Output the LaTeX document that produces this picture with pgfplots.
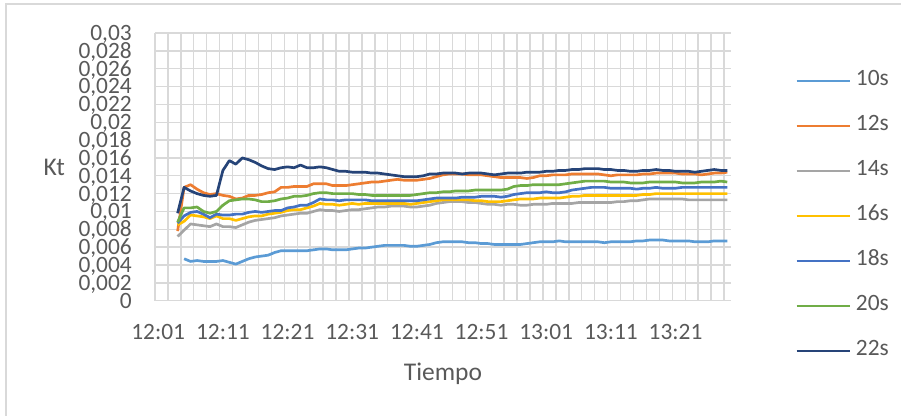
\documentclass[border=0pt]{standalone}
\usepackage{fontspec}
\setmainfont{Carlito}
\usepackage{pgfplots}
\usepackage{pgfplotstable}
\pgfplotsset{compat=1.18}
\definecolor{gridgray}{HTML}{D9D9D9}
\definecolor{txtgray}{HTML}{595959}
\definecolor{cA}{HTML}{5B9BD5}
\definecolor{cB}{HTML}{ED7D31}
\definecolor{cC}{HTML}{A5A5A5}
\definecolor{cD}{HTML}{FFC000}
\definecolor{cE}{HTML}{4472C4}
\definecolor{cF}{HTML}{70AD47}
\definecolor{cG}{HTML}{264478}
\pgfplotstableread{
t s10 s12 s14 s16 s18 s20 s22
3 nan 0.0078 0.0072 0.0085 0.0087 0.0088 0.0098
4 0.0047 0.0127 0.0079 0.0089 0.0095 0.0104 0.0127
5 0.0044 0.0130 0.0086 0.0096 0.0099 0.0104 0.0123
6 0.0045 0.0125 0.0085 0.0095 0.0100 0.0105 0.0120
7 0.0044 0.0121 0.0084 0.0094 0.0097 0.0100 0.0118
8 0.0044 0.0119 0.0083 0.0092 0.0093 0.0098 0.0117
9 0.0044 0.0120 0.0086 0.0095 0.0097 0.0100 0.0118
10 0.0045 0.0118 0.0083 0.0092 0.0096 0.0107 0.0146
11 0.0043 0.0117 0.0083 0.0092 0.0096 0.0112 0.0157
12 0.0041 0.0114 0.0082 0.0090 0.0097 0.0113 0.0153
13 0.0044 0.0115 0.0085 0.0092 0.0097 0.0114 0.0160
14 0.0047 0.0118 0.0088 0.0094 0.0099 0.0114 0.0158
15 0.0049 0.0118 0.0090 0.0095 0.0100 0.0113 0.0155
16 0.0050 0.0119 0.0091 0.0095 0.0099 0.0111 0.0151
17 0.0051 0.0121 0.0092 0.0097 0.0100 0.0111 0.0148
18 0.0054 0.0122 0.0093 0.0098 0.0101 0.0112 0.0147
19 0.0056 0.0127 0.0095 0.0099 0.0101 0.0114 0.0149
20 0.0056 0.0127 0.0096 0.0101 0.0104 0.0115 0.0150
21 0.0056 0.0128 0.0097 0.0102 0.0105 0.0117 0.0149
22 0.0056 0.0128 0.0098 0.0102 0.0107 0.0117 0.0152
23 0.0056 0.0128 0.0098 0.0104 0.0107 0.0118 0.0149
24 0.0057 0.0131 0.0100 0.0106 0.0110 0.0120 0.0149
25 0.0058 0.0131 0.0102 0.0109 0.0114 0.0121 0.0150
26 0.0058 0.0131 0.0101 0.0108 0.0113 0.0121 0.0149
27 0.0057 0.0129 0.0101 0.0108 0.0113 0.0120 0.0147
28 0.0057 0.0129 0.0100 0.0107 0.0112 0.0120 0.0145
29 0.0057 0.0129 0.0101 0.0108 0.0113 0.0120 0.0145
30 0.0058 0.0130 0.0102 0.0109 0.0113 0.0120 0.0144
31 0.0059 0.0131 0.0102 0.0108 0.0113 0.0119 0.0144
32 0.0059 0.0132 0.0103 0.0109 0.0113 0.0119 0.0144
33 0.0060 0.0133 0.0104 0.0109 0.0112 0.0118 0.0143
34 0.0061 0.0133 0.0105 0.0109 0.0112 0.0118 0.0143
35 0.0062 0.0134 0.0105 0.0109 0.0112 0.0118 0.0142
36 0.0062 0.0135 0.0106 0.0109 0.0112 0.0118 0.0141
37 0.0062 0.0136 0.0106 0.0109 0.0112 0.0118 0.0140
38 0.0062 0.0135 0.0106 0.0109 0.0112 0.0118 0.0139
39 0.0061 0.0135 0.0105 0.0108 0.0112 0.0118 0.0139
40 0.0061 0.0135 0.0105 0.0109 0.0112 0.0119 0.0139
41 0.0062 0.0136 0.0106 0.0110 0.0113 0.0120 0.0140
42 0.0063 0.0137 0.0107 0.0111 0.0114 0.0121 0.0142
43 0.0065 0.0139 0.0109 0.0112 0.0115 0.0121 0.0142
44 0.0066 0.0141 0.0110 0.0113 0.0115 0.0122 0.0143
45 0.0066 0.0142 0.0111 0.0113 0.0115 0.0122 0.0143
46 0.0066 0.0142 0.0111 0.0113 0.0115 0.0123 0.0143
47 0.0066 0.0142 0.0111 0.0113 0.0116 0.0123 0.0142
48 0.0065 0.0141 0.0110 0.0113 0.0116 0.0123 0.0143
49 0.0065 0.0141 0.0110 0.0112 0.0116 0.0124 0.0143
50 0.0064 0.0141 0.0109 0.0112 0.0117 0.0124 0.0143
51 0.0064 0.0140 0.0108 0.0111 0.0117 0.0124 0.0142
52 0.0063 0.0139 0.0108 0.0111 0.0117 0.0124 0.0141
53 0.0063 0.0138 0.0107 0.0111 0.0116 0.0124 0.0142
54 0.0063 0.0138 0.0108 0.0112 0.0117 0.0125 0.0143
55 0.0063 0.0138 0.0108 0.0113 0.0119 0.0128 0.0143
56 0.0063 0.0138 0.0107 0.0114 0.0120 0.0129 0.0143
57 0.0064 0.0137 0.0107 0.0114 0.0121 0.0129 0.0144
58 0.0065 0.0138 0.0108 0.0114 0.0121 0.0130 0.0144
59 0.0066 0.0140 0.0108 0.0115 0.0121 0.0130 0.0144
60 0.0066 0.0140 0.0108 0.0115 0.0122 0.0130 0.0145
61 0.0066 0.0141 0.0109 0.0115 0.0121 0.0130 0.0145
62 0.0067 0.0141 0.0109 0.0115 0.0121 0.0130 0.0146
63 0.0066 0.0141 0.0109 0.0116 0.0122 0.0131 0.0146
64 0.0066 0.0142 0.0109 0.0117 0.0124 0.0132 0.0147
65 0.0066 0.0142 0.0110 0.0117 0.0125 0.0133 0.0147
66 0.0066 0.0142 0.0110 0.0118 0.0126 0.0134 0.0148
67 0.0066 0.0142 0.0110 0.0118 0.0127 0.0134 0.0148
68 0.0066 0.0142 0.0110 0.0118 0.0127 0.0134 0.0148
69 0.0065 0.0141 0.0110 0.0118 0.0127 0.0134 0.0147
70 0.0066 0.0140 0.0110 0.0118 0.0126 0.0133 0.0147
71 0.0066 0.0141 0.0111 0.0118 0.0126 0.0133 0.0146
72 0.0066 0.0141 0.0111 0.0118 0.0126 0.0133 0.0146
73 0.0066 0.0141 0.0112 0.0118 0.0126 0.0132 0.0145
74 0.0067 0.0141 0.0112 0.0118 0.0125 0.0132 0.0145
75 0.0067 0.0142 0.0113 0.0119 0.0126 0.0132 0.0146
76 0.0068 0.0142 0.0114 0.0119 0.0126 0.0133 0.0146
77 0.0068 0.0143 0.0114 0.0120 0.0127 0.0133 0.0147
78 0.0068 0.0143 0.0114 0.0120 0.0126 0.0133 0.0146
79 0.0067 0.0143 0.0114 0.0120 0.0126 0.0133 0.0146
80 0.0067 0.0143 0.0114 0.0120 0.0126 0.0133 0.0145
81 0.0067 0.0142 0.0114 0.0120 0.0127 0.0132 0.0145
82 0.0067 0.0142 0.0113 0.0120 0.0127 0.0132 0.0145
83 0.0066 0.0142 0.0113 0.0120 0.0127 0.0132 0.0144
84 0.0066 0.0141 0.0113 0.0120 0.0127 0.0133 0.0145
85 0.0066 0.0142 0.0113 0.0120 0.0127 0.0133 0.0146
86 0.0067 0.0143 0.0113 0.0120 0.0127 0.0133 0.0147
87 0.0067 0.0143 0.0113 0.0120 0.0127 0.0134 0.0146
88 0.0067 0.0144 0.0113 0.0120 0.0127 0.0133 0.0146
}\datatable
\begin{document}
\begin{tikzpicture}
\useasboundingbox (0,0) rectangle (901bp,416bp);
\draw[gridgray, line width=1.3bp] (6bp,-2bp) -- (6bp,412bp) -- (903bp,412bp);
\begin{axis}[
  scale only axis,
  width=575.5bp, height=267.7bp,
  at={(155bp,115.3bp)}, anchor=south west,
  xmin=-0.5, xmax=88.5, ymin=0, ymax=0.03,
  axis line style={draw=none},
  tick style={draw=none},
  major tick length=0pt, minor tick length=0pt,
  xtick={0,10,20,30,40,50,60,70,80},
  xticklabels={12:01,12:11,12:21,12:31,12:41,12:51,13:01,13:11,13:21},
  minor xtick={-0.5,1.5,...,87.5},
  xminorgrids=true,
  ytick={0,0.002,0.004,0.006,0.008,0.01,0.012,0.014,0.016,0.018,0.02,0.022,0.024,0.026,0.028,0.03},
  yticklabels={0,{0,002},{0,004},{0,006},{0,008},{0,01},{0,012},{0,014},{0,016},{0,018},{0,02},{0,022},{0,024},{0,026},{0,028},{0,03}},
  ymajorgrids=true,
  grid style={line width=1.4bp, gridgray},
  minor grid style={line width=1.4bp, gridgray},
  xticklabel style={anchor=base, inner sep=0pt, yshift=-39.3bp, font=\fontsize{23.4bp}{28bp}\selectfont, text=txtgray},
  yticklabel style={anchor=base east, inner sep=0pt, xshift=-23bp, yshift=-7.4bp, font=\fontsize{23.4bp}{28bp}\selectfont, text=txtgray},
  scaled y ticks=false,
  unbounded coords=jump,
  every axis plot/.append style={line width=2.7bp, line join=round, mark=none},
  legend cell align=left,
  legend image code/.code={\draw[#1] (0bp,0bp) -- (53bp,0bp);},
  legend style={draw=none, fill=none, at={(1.1121,0.9059)}, anchor=north west,
    inner sep=0pt, column sep=5bp, row sep=0pt,
    font=\fontsize{23.4bp}{28bp}\selectfont, text=txtgray,
    nodes={inner sep=0pt, text height=26.8bp, text depth=18.2bp}},
]
\addplot[cA] table[x=t, y=s10] {\datatable};
\addlegendentry{10s}
\addplot[cB] table[x=t, y=s12] {\datatable};
\addlegendentry{12s}
\addplot[cC] table[x=t, y=s14] {\datatable};
\addlegendentry{14s}
\addplot[cD] table[x=t, y=s16] {\datatable};
\addlegendentry{16s}
\addplot[cE] table[x=t, y=s18] {\datatable};
\addlegendentry{18s}
\addplot[cF] table[x=t, y=s20] {\datatable};
\addlegendentry{20s}
\addplot[cG] table[x=t, y=s22] {\datatable};
\addlegendentry{22s}
\end{axis}
\node[anchor=base, inner sep=0pt, text=txtgray, font=\fontsize{25.5bp}{30bp}\selectfont] at (443bp,36bp) {Tiempo};
\node[anchor=base west, inner sep=0pt, text=txtgray, font=\fontsize{25.5bp}{30bp}\selectfont] at (43.3bp,240bp) {Kt};
\end{tikzpicture}
\end{document}
